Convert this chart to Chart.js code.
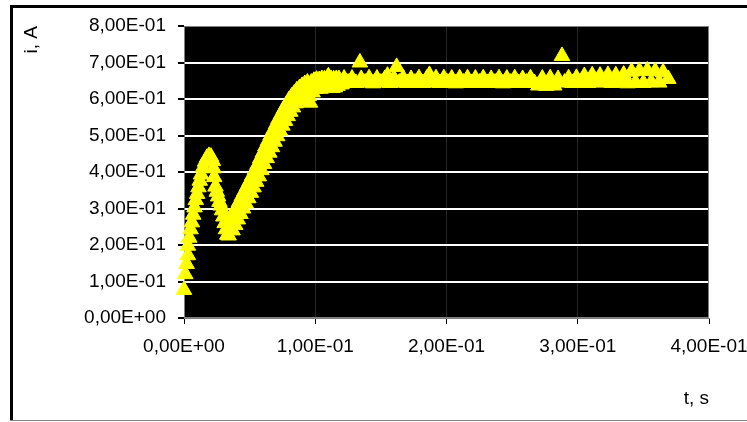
<!DOCTYPE html>
<html>
<head>
<meta charset="utf-8">
<script src="https://cdn.jsdelivr.net/npm/chart.js@4.4.1/dist/chart.umd.min.js"></script>
<style>
  html, body { margin: 0; padding: 0; background: #fff; }
  #wrap { width: 747px; height: 422px; }
</style>
</head>
<body>
<div id="wrap"><canvas id="chartCurrent" width="747" height="422"></canvas></div>
<script>
const timeS = [
  0.000, 0.001, 0.002, 0.003, 0.003, 0.004, 0.005, 0.006, 0.007, 0.008,
  0.009, 0.010, 0.011, 0.012, 0.013, 0.0145, 0.016, 0.0175, 0.019, 0.0205,
  0.022, 0.0225, 0.023, 0.024, 0.025, 0.026, 0.027, 0.028, 0.029, 0.030,
  0.031, 0.032, 0.033, 0.034, 0.035,
  0.036, 0.037, 0.038, 0.039, 0.040, 0.041, 0.042, 0.043, 0.044, 0.045,
  0.046, 0.047, 0.048, 0.049, 0.050, 0.051, 0.052, 0.053, 0.054, 0.055,
  0.056, 0.057, 0.058, 0.059, 0.060, 0.061, 0.062, 0.063, 0.064, 0.065,
  0.066, 0.067, 0.068, 0.069, 0.070, 0.071, 0.072, 0.073, 0.074, 0.075,
  0.076, 0.077, 0.078, 0.079, 0.080, 0.081, 0.082, 0.083, 0.084, 0.085,
  0.086, 0.087, 0.088, 0.089, 0.090, 0.091, 0.092, 0.093, 0.094, 0.095,
  0.096, 0.097, 0.098, 0.099, 0.100, 0.101, 0.102, 0.103, 0.104, 0.105,
  0.106, 0.107, 0.108, 0.109, 0.110, 0.111, 0.112, 0.113, 0.114, 0.115,
  0.116, 0.117, 0.118, 0.120, 0.122,
  0.125, 0.128, 0.131, 0.134, 0.135, 0.138, 0.141, 0.144, 0.147, 0.150,
  0.153, 0.155, 0.157, 0.160, 0.162, 0.164, 0.167, 0.170, 0.173, 0.176,
  0.179, 0.182, 0.185, 0.187, 0.189, 0.192, 0.195, 0.198, 0.201, 0.204,
  0.207, 0.210, 0.213, 0.216, 0.219, 0.222, 0.225, 0.228, 0.231, 0.234,
  0.237, 0.240, 0.243, 0.246, 0.249, 0.252, 0.255, 0.258, 0.261, 0.264,
  0.267, 0.270, 0.273, 0.276, 0.279, 0.282, 0.285, 0.288, 0.290, 0.293,
  0.296, 0.299, 0.302, 0.305, 0.308, 0.311, 0.314, 0.317, 0.320, 0.323,
  0.326, 0.329, 0.332, 0.335, 0.338, 0.341, 0.344, 0.347, 0.350, 0.353,
  0.356, 0.359, 0.362, 0.365, 0.369
];
const currentA = [
  0.077, 0.120, 0.148, 0.172, 0.198, 0.220, 0.243, 0.262, 0.283, 0.303,
  0.323, 0.340, 0.358, 0.376, 0.393, 0.412, 0.428, 0.439, 0.444, 0.442,
  0.430, 0.410, 0.386, 0.360, 0.346, 0.333, 0.318, 0.308, 0.295, 0.278,
  0.260, 0.243, 0.228, 0.226, 0.243,
  0.270, 0.240, 0.288, 0.255, 0.303, 0.270, 0.318, 0.285, 0.333, 0.300,
  0.347, 0.314, 0.361, 0.328, 0.375, 0.343, 0.390, 0.358, 0.405, 0.373,
  0.420, 0.388, 0.437, 0.405, 0.453, 0.422, 0.470, 0.438, 0.485, 0.453,
  0.500, 0.468, 0.515, 0.483, 0.530, 0.498, 0.545, 0.513, 0.558, 0.527,
  0.572, 0.540, 0.585, 0.553, 0.597, 0.565, 0.607, 0.577, 0.615, 0.588,
  0.624, 0.596, 0.630, 0.603, 0.636, 0.610, 0.641, 0.615, 0.645, 0.608,
  0.590, 0.645, 0.618, 0.650, 0.628, 0.653, 0.632, 0.652, 0.628, 0.655,
  0.635, 0.654, 0.632, 0.656, 0.662, 0.636, 0.655, 0.630, 0.654, 0.632,
  0.655, 0.636, 0.655, 0.640, 0.656,
  0.645, 0.656, 0.644, 0.700, 0.655, 0.645, 0.657, 0.643, 0.656, 0.645,
  0.655, 0.664, 0.644, 0.656, 0.688, 0.645, 0.657, 0.644, 0.655, 0.645,
  0.657, 0.644, 0.656, 0.666, 0.645, 0.657, 0.644, 0.657, 0.645, 0.656,
  0.643, 0.657, 0.645, 0.657, 0.644, 0.656, 0.645, 0.657, 0.644, 0.655,
  0.645, 0.657, 0.643, 0.656, 0.645, 0.657, 0.644, 0.655, 0.645, 0.657,
  0.644, 0.637, 0.656, 0.636, 0.657, 0.637, 0.655, 0.718, 0.645, 0.657,
  0.644, 0.658, 0.645, 0.663, 0.644, 0.665, 0.646, 0.664, 0.645, 0.666,
  0.644, 0.665, 0.646, 0.667, 0.643, 0.675, 0.645, 0.677, 0.644, 0.678,
  0.646, 0.676, 0.645, 0.673, 0.655
];
const xRange = [0, 0.4];
const yRange = [0, 0.8];
const tickStep = 0.1;
const xTitle = "t, s";
const yTitle = "i, A";

const textFont = { family: "'Liberation Sans', Arial, sans-serif", size: 19 };

// 0.1 -> "1,00E-01"
function sciLabel(v) {
  const parts = Number(v).toExponential(2).split("e");
  const exp = parseInt(parts[1], 10);
  const sign = exp < 0 ? "-" : "+";
  return parts[0].replace(".", ",") + "E" + sign + String(Math.abs(exp)).padStart(2, "0");
}

const isEdge = (v, lo, hi) => Math.abs(v - lo) < 1e-6 || Math.abs(v - hi) < 1e-6;

const frameAndPlot = {
  id: "frameAndPlot",
  beforeDraw(chart) {
    const { ctx, chartArea: a } = chart;
    ctx.save();
    ctx.fillStyle = "#fff";
    ctx.fillRect(0, 0, chart.width, chart.height);
    // outer chart frame
    ctx.fillStyle = "#000";
    ctx.fillRect(10, 5, chart.width - 10, 3);
    ctx.fillRect(10, 5, 3, 416);
    ctx.fillStyle = "#808080";
    ctx.fillRect(10, 420, chart.width - 10, 1);
    // plot area
    ctx.fillStyle = "#000";
    ctx.fillRect(a.left, a.top, a.right - a.left, a.bottom - a.top);
    ctx.restore();
  },
  beforeDatasetsDraw(chart) {
    const { ctx, chartArea: a } = chart;
    ctx.save();
    ctx.strokeStyle = "#808080";
    ctx.lineWidth = 1;
    ctx.strokeRect(a.left + 0.5, a.top + 0.5, a.right - a.left - 1, a.bottom - a.top - 1);
    ctx.restore();
  }
};

new Chart(document.getElementById("chartCurrent"), {
  type: "scatter",
  data: {
    datasets: [{
      label: "i",
      data: timeS.map((t, k) => ({ x: t, y: currentA[k] })),
      pointStyle: "triangle",
      pointRadius: 9,
      pointHoverRadius: 9,
      backgroundColor: "#ffff00",
      borderColor: "#ffff00",
      borderWidth: 1,
      clip: false
    }]
  },
  options: {
    responsive: false,
    animation: false,
    layout: { padding: { top: 26, right: 38, left: 0, bottom: 0 } },
    plugins: { legend: { display: false }, tooltip: { enabled: false } },
    scales: {
      x: {
        type: "linear",
        min: xRange[0],
        max: xRange[1],
        ticks: {
          stepSize: tickStep,
          callback: sciLabel,
          color: "#000",
          font: textFont,
          padding: 11,
          maxRotation: 0,
          autoSkip: false
        },
        grid: {
          color: (c) => isEdge(c.tick.value, xRange[0], xRange[1]) ? "rgba(0,0,0,0)" : "#262626",
          lineWidth: 1,
          tickLength: 6,
          tickColor: "#000"
        },
        border: { color: "#808080" },
        title: {
          display: true,
          text: xTitle,
          align: "end",
          color: "#000",
          font: textFont,
          padding: { top: 0, bottom: 12 }
        },
        afterFit(scale) {
          scale.height = 104;
          scale.paddingLeft = 0;
          scale.paddingRight = 0;
        }
      },
      y: {
        min: yRange[0],
        max: yRange[1],
        ticks: {
          stepSize: tickStep,
          callback: sciLabel,
          color: "#000",
          font: textFont,
          padding: 12
        },
        grid: {
          color: (c) => isEdge(c.tick.value, yRange[0], yRange[1]) ? "rgba(0,0,0,0)" : "#ffffff",
          lineWidth: 2,
          tickLength: 6,
          tickColor: "#000"
        },
        border: { color: "#808080" },
        title: {
          display: true,
          text: yTitle,
          align: "end",
          color: "#000",
          font: textFont,
          padding: { top: 20, bottom: 0 }
        },
        afterFit(scale) {
          scale.width = 184;
          scale.paddingTop = 0;
          scale.paddingBottom = 0;
        }
      }
    }
  },
  plugins: [frameAndPlot]
});
</script>
</body>
</html>
